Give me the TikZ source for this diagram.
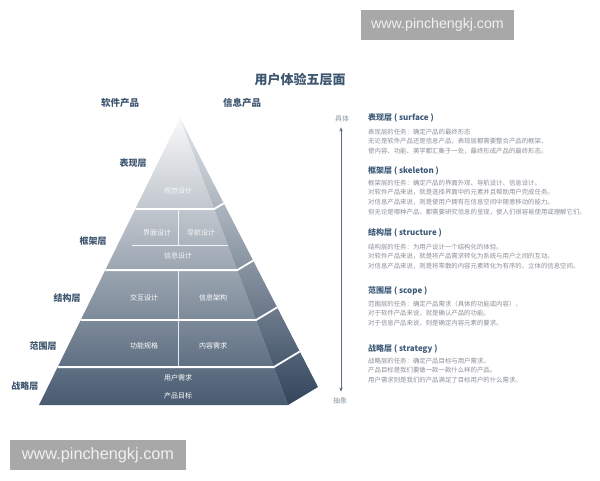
\documentclass[tikz,border=0pt]{standalone}
\usepackage{fontspec}
\setmainfont{Noto Sans CJK SC}
\newfontfamily\wmfont{Liberation Sans}
\usetikzlibrary{calc,arrows.meta}
\definecolor{titleblue}{HTML}{3E5771}
\definecolor{labelblue}{HTML}{3F5670}
\definecolor{headblue}{HTML}{3D5A78}
\definecolor{bodygray}{HTML}{8A9098}
\definecolor{axisgray}{HTML}{5C6E80}
\definecolor{axistext}{HTML}{8A96A2}
\definecolor{wmgray}{HTML}{A8A8A8}
\tikzset{
  titletext/.style={font=\bfseries\fontsize{13}{15}\selectfont, text=titleblue},
  toplabel/.style={font=\bfseries\fontsize{9.5}{11}\selectfont, text=labelblue},
  sidelabel/.style={font=\bfseries\fontsize{9}{11}\selectfont, text=labelblue},
  pyrtext/.style={font=\fontsize{7}{9}\selectfont, text=white, inner sep=0pt},
  headtext/.style={font=\bfseries\fontsize{8}{10}\selectfont, text=headblue, anchor=base west, inner sep=0pt},
  bodytext/.style={font=\fontsize{6.4}{9.7}\selectfont, text=bodygray, anchor=north west, align=left, inner sep=0pt},
  axislabel/.style={font=\fontsize{7}{9}\selectfont, text=axistext, inner sep=0pt},
  sepline/.style={draw=white, line width=1.8pt},
  innerline/.style={draw=white, line width=0.8pt, opacity=0.85},
  wmbox/.style={fill=wmgray, draw=none},
  wmtext/.style={font=\wmfont, text=white!94!black, inner sep=0pt}
}
\begin{document}
\begin{tikzpicture}[x=1pt,y=-1pt]
\useasboundingbox (0,0) rectangle (600,480);
\fill[white] (0,0) rectangle (600,480);

% watermarks
\fill[wmbox] (361,10) rectangle (514,40);
\node[wmtext, font=\wmfont\fontsize{14.2}{16}\selectfont] (wm1) at (437.5,25) {www.pinchengkj.com};
\fill[wmbox] (10,440) rectangle (186,470);
\node[wmtext, font=\wmfont\fontsize{16.3}{18}\selectfont] (wm2) at (98,455) {www.pinchengkj.com};

% title and column labels
\node[titletext] (title) at (300,80) {用户体验五层面};
\node[toplabel] (soft) at (120,103) {软件产品};
\node[toplabel] (info) at (242,103) {信息产品};

% pyramid
\coordinate (A) at (180,118);
\coordinate (FL) at (39,405);
\coordinate (FR) at (288,405);
\coordinate (BR) at (318,387);
\shade[top color=white!95!gray, middle color={rgb,255:red,160;green,171;blue,184}, bottom color={rgb,255:red,72;green,91;blue,113}]
  (A) -- (FL) -- (FR) -- cycle;
\shade[top color={rgb,255:red,226;green,230;blue,234}, middle color={rgb,255:red,130;green,144;blue,160}, bottom color={rgb,255:red,50;green,69;blue,92}]
  (A) -- (FR) -- (BR) -- cycle;
\foreach \s in {0.317,0.530,0.704,0.868}{
  \draw[sepline, line join=miter] ($(A)!\s!(FL)$) -- ($(A)!\s!(FR)$) -- ($(A)!\s!(BR)$);
}
\draw[innerline] (178,210) -- (178,245);
\draw[innerline] (132,245) -- (228,245);
\draw[innerline] (178,271) -- (178,366);

% pyramid texts
\node[pyrtext, opacity=0.85] (t1) at (178,191) {视觉设计};
\node[pyrtext, opacity=0.9] (t2a) at (157,233) {界面设计};
\node[pyrtext, opacity=0.9] (t2b) at (201,233) {导航设计};
\node[pyrtext, opacity=0.9] (t2c) at (178,256) {信息设计};
\node[pyrtext] (t3a) at (144,298) {交互设计};
\node[pyrtext] (t3b) at (213,298) {信息架构};
\node[pyrtext] (t4a) at (144,346) {功能规格};
\node[pyrtext] (t4b) at (213,346) {内容需求};
\node[pyrtext] (t5a) at (178,378) {用户需求};
\node[pyrtext] (t5b) at (178,396) {产品目标};

% side labels
\node[sidelabel] (l1) at (133,163) {表现层};
\node[sidelabel] (l2) at (93,241) {框架层};
\node[sidelabel] (l3) at (67,298) {结构层};
\node[sidelabel] (l4) at (43,346) {范围层};
\node[sidelabel] (l5) at (25,386) {战略层};

% axis
\node[axislabel] (top) at (342,119) {具体};
\node[axislabel] (bot) at (340,401) {抽象};
\draw[axisgray, line width=0.9pt, {Stealth[length=4pt,width=3.5pt]}-{Stealth[length=4pt,width=3.5pt]}]
  ([yshift=-5pt]top.south -| 341,0) -- ([yshift=6pt]bot.north -| 341,0);

% right descriptions
\node[headtext] (h1) at (368,120.8) {表现层 ( surface )};
\node[bodytext] (b1) at (368,128.5) {表现层的任务：确定产品的最终形态\\无论是软件产品还是信息产品，表现层都需要整合产品的框架、\\使内容、功能、美学都汇集于一处，最终形成产品的最终形态。};

\node[headtext] (h2) at (368,173.8) {框架层 ( skeleton )};
\node[bodytext] (b2) at (368,179.5) {框架层的任务：确定产品的界面外观、导航设计、信息设计。\\对软件产品来说，就是选择界面中的元素并且帮助用户完成任务。\\对信息产品来说，则是使用户拥有在信息空间中随意移动的能力。\\但无论是哪种产品，都需要研究信息的呈现，使人们很容易使用或理解它们。};

\node[headtext] (h3) at (368,235.8) {结构层 ( structure )};
\node[bodytext] (b3) at (368,243.5) {结构层的任务：为用户设计一个结构化的体验。\\对软件产品来说，就是将产品需求转化为系统与用户之间的互动。\\对信息产品来说，则是将零散的内容元素转化为有序的、立体的信息空间。};

\node[headtext] (h4) at (368,293.8) {范围层 ( scope )};
\node[bodytext] (b4) at (368,300.5) {范围层的任务：确定产品需求（具体的功能或内容），\\对于软件产品来说，就是确认产品的功能。\\对于信息产品来说，则是确定内容元素的要求。};

\node[headtext] (h5) at (368,351.8) {战略层 ( strategy )};
\node[bodytext] (b5) at (368,357.5) {战略层的任务：确定产品目标与用户需求。\\产品目标是我们要做一款一款什么样的产品。\\用户需求则是我们的产品满足了目标用户的什么需求。};
\end{tikzpicture}
\end{document}
